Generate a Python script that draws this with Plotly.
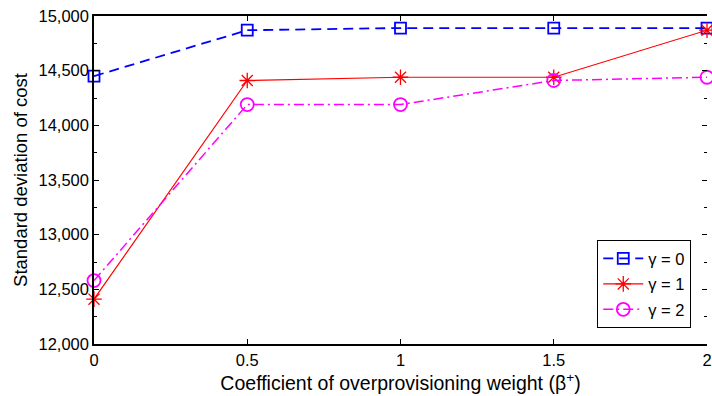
import plotly.graph_objects as go

# Coefficient of overprovisioning weight (beta+)
beta = [0, 0.5, 1, 1.5, 2]

# Standard deviation of cost for each gamma
std_g0 = [14450, 14870, 14890, 14890, 14890]
std_g1 = [12410, 14410, 14440, 14440, 14870]
std_g2 = [12580, 14190, 14190, 14410, 14440]

y_ticks = [12000, 12500, 13000, 13500, 14000, 14500, 15000]
x_ticks = [0, 0.5, 1, 1.5, 2]
x_labels = ["0", "0.5", "1", "1.5", "2"]

FONT = "Liberation Sans, Arial, sans-serif"
Y_RANGE = [12000, 15000]

fig = go.Figure()
fig.add_trace(go.Scatter(
    x=beta, y=std_g0, name="γ = 0", mode="lines+markers", legendgroup="g0",
    line=dict(color="#0000ff", width=1.8, dash="10px,6px"),
    marker=dict(symbol="square-open", size=11, color="#0000ff", line=dict(width=1.8)),
    cliponaxis=False,
))
fig.add_trace(go.Scatter(
    x=beta, y=std_g1, name="γ = 1", mode="lines+markers", legendgroup="g1",
    line=dict(color="#ff0000", width=1.2),
    marker=dict(symbol="asterisk-open", size=13, color="#ff0000", line=dict(width=1.3, color="#ff0000")),
    cliponaxis=False,
))
fig.add_trace(go.Scatter(
    x=beta, y=std_g2, name="γ = 2", mode="lines+markers", legendgroup="g2",
    line=dict(color="#ff00ff", width=1.5, dash="10px,4px,2px,4px"),
    marker=dict(symbol="circle-open", size=13, color="#ff00ff", line=dict(width=1.8)),
    cliponaxis=False, yaxis="y2",
))

fig.update_layout(
    width=712, height=396,
    margin=dict(l=94, r=0, t=16, b=52),
    paper_bgcolor="white", plot_bgcolor="white",
    font=dict(family=FONT, size=16.5, color="black"),
    showlegend=True,
    legend=dict(
        x=0.974, y=0.317, xanchor="right", yanchor="top",
        bordercolor="black", borderwidth=1.2, bgcolor="white",
        font=dict(family=FONT, size=16.5), tracegroupgap=1,
        itemwidth=40,
    ),
)
fig.update_xaxes(
    range=[0, 2], tickvals=x_ticks, ticktext=x_labels,
    ticks="inside", ticklen=5, tickcolor="black", tickwidth=1,
    ticklabeloverflow="allow",
    showline=True, linecolor="black", linewidth=1.5, mirror="ticks",
    showgrid=False, zeroline=False,
    title=dict(text="Coefficient of overprovisioning weight (β<sup>+</sup>)",
               font=dict(size=19.5), standoff=9),
)
fig.update_layout(
    yaxis=dict(
        range=Y_RANGE, tickvals=y_ticks, tickformat=",",
        ticks="inside", ticklen=5, tickcolor="black", tickwidth=1,
        showline=True, linecolor="black", linewidth=1.5, mirror=False,
        showgrid=False, zeroline=False,
        minor=dict(dtick=250, ticks="inside", ticklen=3, tickcolor="black", showgrid=False),
        title=dict(text="Standard deviation of cost", font=dict(size=18.5), standoff=6),
    ),
    # right-hand tick marks (box without a visible right edge)
    yaxis2=dict(
        overlaying="y", side="right", matches="y", range=Y_RANGE,
        tickvals=y_ticks, showticklabels=False,
        ticks="inside", ticklen=5, tickcolor="black", tickwidth=1,
        showline=False, showgrid=False, zeroline=False,
        minor=dict(dtick=250, ticks="inside", ticklen=3, tickcolor="black", showgrid=False),
    ),
)

fig.write_html("out.html")
